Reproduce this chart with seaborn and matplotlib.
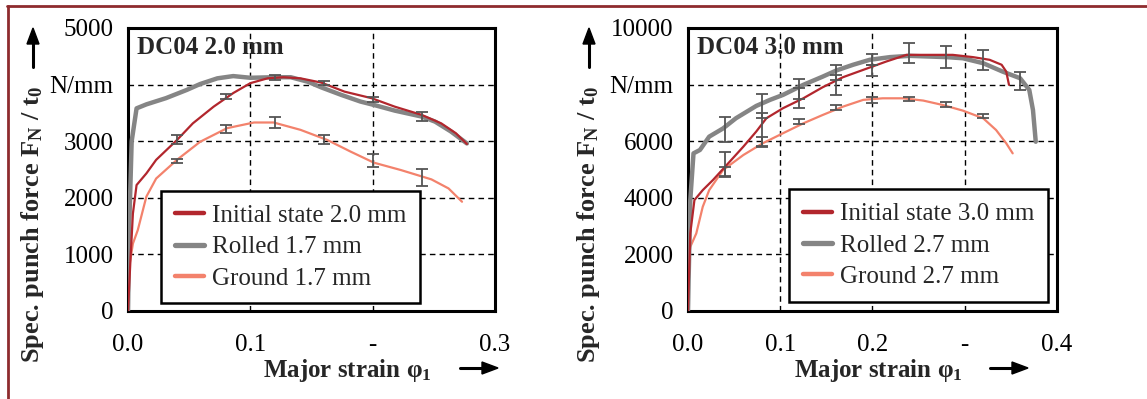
import numpy as np
import pandas as pd
import matplotlib
matplotlib.use('Agg')
import matplotlib.pyplot as plt
import seaborn as sns
from matplotlib.lines import Line2D

# ---- DC04 2.0 mm ----
x_init_20 = [0.0, 0.002, 0.004, 0.007, 0.015, 0.023, 0.040, 0.053, 0.070, 0.086, 0.100, 0.114, 0.127, 0.141,
             0.158, 0.177, 0.199, 0.218, 0.240, 0.256, 0.268, 0.277]
y_init_20 = [0, 900, 1720, 2225, 2430, 2670, 3020, 3315, 3610, 3850, 4025, 4110, 4130, 4110,
             4035, 3875, 3760, 3610, 3465, 3315, 3140, 2950]
x_roll_20 = [0.0, 0.001, 0.003, 0.007, 0.015, 0.031, 0.048, 0.059, 0.073, 0.086, 0.100, 0.119, 0.133, 0.147,
             0.158, 0.174, 0.190, 0.201, 0.218, 0.240, 0.251, 0.264, 0.277]
y_roll_20 = [0, 1500, 3000, 3580, 3650, 3760, 3905, 4010, 4110, 4150, 4120, 4130, 4130, 4050,
             3950, 3820, 3700, 3640, 3540, 3435, 3345, 3170, 2960]
x_grnd_20 = [0.0, 0.001, 0.004, 0.008, 0.015, 0.023, 0.040, 0.059, 0.081, 0.103, 0.119, 0.141, 0.163,
             0.182, 0.201, 0.223, 0.248, 0.262, 0.273]
y_grnd_20 = [0, 780, 1190, 1430, 2020, 2340, 2670, 2990, 3230, 3330, 3330, 3200, 3020,
             2815, 2620, 2490, 2325, 2165, 1930]

eb_x_20 = [0.04, 0.08, 0.12, 0.16, 0.20, 0.24]
eb_init_20 = [3030, 3790, 4130, 4025, 3730, 3435]
eb_init_err_20 = [80, 40, 45, 40, 45, 80]
eb_grnd_20 = [2650, 3215, 3335, 3030, 2655, 2355]
eb_grnd_err_20 = [30, 75, 100, 75, 110, 145]

# ---- DC04 3.0 mm ----
x_init_30 = [0.0, 0.0025, 0.007, 0.016, 0.027, 0.042, 0.060, 0.074, 0.085, 0.103, 0.125, 0.146, 0.168,
             0.190, 0.215, 0.237, 0.262, 0.287, 0.309, 0.327, 0.340, 0.345, 0.348]
y_init_30 = [0, 2740, 3920, 4270, 4625, 5160, 5805, 6340, 6810, 7165, 7515, 7905, 8260,
             8520, 8815, 9050, 9050, 9050, 8970, 8875, 8700, 8460, 7990]
x_roll_30 = [0.0, 0.0025, 0.006, 0.013, 0.023, 0.038, 0.052, 0.074, 0.089, 0.103, 0.125, 0.146, 0.161,
             0.179, 0.197, 0.219, 0.240, 0.262, 0.280, 0.298, 0.320, 0.341, 0.360, 0.370, 0.374, 0.377]
y_roll_30 = [0, 3920, 5570, 5690, 6160, 6450, 6810, 7245, 7460, 7635, 7990, 8280, 8500,
             8700, 8875, 8970, 9015, 8990, 8970, 8930, 8755, 8460, 8225, 7810, 7100, 5980]
x_grnd_30 = [0.0, 0.001, 0.0025, 0.009, 0.016, 0.023, 0.038, 0.060, 0.081, 0.103, 0.125, 0.146, 0.168,
             0.190, 0.211, 0.233, 0.255, 0.276, 0.298, 0.320, 0.334, 0.345, 0.352]
y_grnd_30 = [0, 1910, 2265, 2740, 3680, 4270, 4980, 5510, 5925, 6280, 6630, 6925, 7220,
             7460, 7515, 7515, 7435, 7280, 7080, 6810, 6395, 5925, 5570]

eb_x_roll_30 = [0.04, 0.08, 0.12, 0.16, 0.20, 0.24, 0.28, 0.32, 0.36]
eb_roll_30 = [6420, 7245, 7850, 8425, 8900, 9110, 8970, 8875, 8130]
eb_roll_err_30 = [440, 425, 355, 265, 195, 350, 400, 355, 325]
eb_x_init_30 = [0.04, 0.08, 0.12, 0.16, 0.20]
eb_init_30 = [5180, 6395, 7515, 7990, 8500]
eb_init_err_30 = [430, 590, 355, 355, 205]
eb_x_grnd_30 = [0.04, 0.08, 0.12, 0.16, 0.20, 0.24, 0.28, 0.32]
eb_grnd_30 = [4920, 5980, 6690, 7200, 7465, 7480, 7310, 6890]
eb_grnd_err_30 = [150, 150, 90, 90, 100, 75, 90, 75]

RED = '#b2262d'
GREY = '#858585'
SALMON = '#f3826c'
EBC = '#555555'

sns.set_style('white')
plt.rcParams['font.family'] = ['Liberation Serif', 'DejaVu Serif']
plt.rcParams['mathtext.fontset'] = 'custom'
plt.rcParams['mathtext.rm'] = 'Liberation Serif'
plt.rcParams['mathtext.bf'] = 'Liberation Serif:bold'
plt.rcParams['mathtext.it'] = 'Liberation Serif:italic'


def long_df(series):
    frames = []
    for name, xs, ys in series:
        frames.append(pd.DataFrame({'strain': xs, 'force': ys, 'state': name}))
    return pd.concat(frames, ignore_index=True)


def draw_panel(ax, df, names, lws, errbars, xmax, ymax, ystep, xlabels, nmm_val, title):
    palette = dict(zip(names, [RED, GREY, SALMON]))
    for name, lw, z in zip(names, lws, [4, 3, 2]):
        sub = df[df['state'] == name]
        sns.lineplot(data=sub, x='strain', y='force', color=palette[name], lw=lw,
                     sort=False, estimator=None, ax=ax, zorder=z)
    for xs, ys, es in errbars:
        ax.errorbar(xs, ys, yerr=es, fmt='none', ecolor=EBC, elinewidth=1.3,
                    capsize=4, capthick=1.3, zorder=5)

    ax.set_xlim(0, xmax)
    ax.set_ylim(0, ymax)
    xt = np.round(np.arange(0, xmax + 0.001, 0.1), 1)
    ax.set_xticks(xt)
    ax.set_xticklabels(xlabels, fontsize=18)
    yt = np.arange(0, ymax + 1, ystep)
    ax.set_yticks(yt)
    ax.set_yticklabels(['N/mm' if v == nmm_val else str(int(v)) for v in yt], fontsize=18)
    ax.tick_params(direction='inout', length=9, width=1.8, pad=6, colors='black')
    ax.tick_params(axis='x', pad=12)
    for v in xt[1:-1]:
        ax.axvline(v, color='black', lw=1, ls=(0, (4, 3)), zorder=1)
    for v in yt[1:-1]:
        ax.axhline(v, color='black', lw=1, ls=(0, (4, 3)), zorder=1)
    for s in ax.spines.values():
        s.set_color('black')
        s.set_linewidth(2.2)
    ax.set_xlabel('')
    ax.set_ylabel('')
    ax.text(0.025, 0.97, title, transform=ax.transAxes, ha='left', va='top',
            fontsize=18, fontweight='bold', zorder=10)

    handles = [Line2D([0], [0], color=palette[n], lw=w) for n, w in zip(names, [3.2, 3.8, 3.2])]
    return handles


def add_legend(ax, handles, names, anchor):
    leg = ax.legend(handles, names, loc='upper left', bbox_to_anchor=anchor, borderaxespad=0,
                    fontsize=18, frameon=True, fancybox=False, edgecolor='black', framealpha=1,
                    handlelength=1.15, handletextpad=0.35, borderpad=0.55, labelspacing=0.35)
    leg.get_frame().set_linewidth(1.8)
    leg.set_zorder(8)


fig = plt.figure(figsize=(11.47, 3.99), dpi=100)
ax1 = fig.add_axes([0.1116, 0.2206, 0.320, 0.7093])
ax2 = fig.add_axes([0.5998, 0.2206, 0.3217, 0.7093])

names1 = ['Initial state 2.0 mm', 'Rolled 1.7 mm', 'Ground 1.7 mm']
df1 = long_df([(names1[0], x_init_20, y_init_20),
               (names1[1], x_roll_20, y_roll_20),
               (names1[2], x_grnd_20, y_grnd_20)])
h1 = draw_panel(ax1, df1, names1, [1.6, 3.2, 1.6],
                [(eb_x_20, eb_init_20, eb_init_err_20), (eb_x_20, eb_grnd_20, eb_grnd_err_20)],
                0.3, 5000, 1000, ['0.0', '0.1', '-', '0.3'], 4000, 'DC04 2.0 mm')
add_legend(ax1, h1, names1, (0.09, 0.424))

names2 = ['Initial state 3.0 mm', 'Rolled 2.7 mm', 'Ground 2.7 mm']
df2 = long_df([(names2[0], x_init_30, y_init_30),
               (names2[1], x_roll_30, y_roll_30),
               (names2[2], x_grnd_30, y_grnd_30)])
h2 = draw_panel(ax2, df2, names2, [1.6, 3.2, 1.6],
                [(eb_x_roll_30, eb_roll_30, eb_roll_err_30),
                 (eb_x_init_30, eb_init_30, eb_init_err_30),
                 (eb_x_grnd_30, eb_grnd_30, eb_grnd_err_30)],
                0.4, 10000, 2000, ['0.0', '0.1', '0.2', '-', '0.4'], 8000, 'DC04 3.0 mm')
add_legend(ax2, h2, names2, (0.274, 0.431))

# axis labels with arrows, placed in figure pixels
ylab = r'Spec. punch force $\mathbf{F_N}$ / $\mathbf{t_0}$'
xlab = r'Major strain φ$_\mathbf{1}$'
for xc in [33, 589]:
    fig.text(xc / 1147, (399 - 363) / 399, ylab, rotation=90, ha='center', va='bottom',
             fontsize=19, fontweight='bold')
    fig.add_artist(plt.Line2D([xc / 1147] * 2, [(399 - 67) / 399, (399 - 40) / 399],
                              color='black', lw=2.2))
    fig.patches.append(plt.Polygon([[(xc - 6) / 1147, (399 - 44) / 399], [(xc + 6) / 1147, (399 - 44) / 399],
                                    [xc / 1147, (399 - 28) / 399]], closed=True, color='black',
                                   transform=fig.transFigure, figure=fig))
for xc, ax0 in [(347, 460), (878, 990)]:
    fig.text(xc / 1147, (399 - 370) / 399, xlab, ha='center', va='center', fontsize=18, fontweight='bold')
    fig.add_artist(plt.Line2D([ax0 / 1147, (ax0 + 24) / 1147], [(399 - 368) / 399] * 2, color='black', lw=2.2))
    fig.patches.append(plt.Polygon([[(ax0 + 22) / 1147, (399 - 362) / 399], [(ax0 + 22) / 1147, (399 - 374) / 399],
                                    [(ax0 + 38) / 1147, (399 - 368) / 399]], closed=True, color='black',
                                   transform=fig.transFigure, figure=fig))

# dark red frame around the figure (top and left edge visible)
fig.add_artist(plt.Line2D([7 / 1147, 1.0], [(399 - 6) / 399] * 2, color='#8e2b2e', lw=2))
fig.add_artist(plt.Line2D([8 / 1147] * 2, [0, (399 - 6) / 399], color='#8e2b2e', lw=2))

fig.savefig('out.png', dpi=100)
